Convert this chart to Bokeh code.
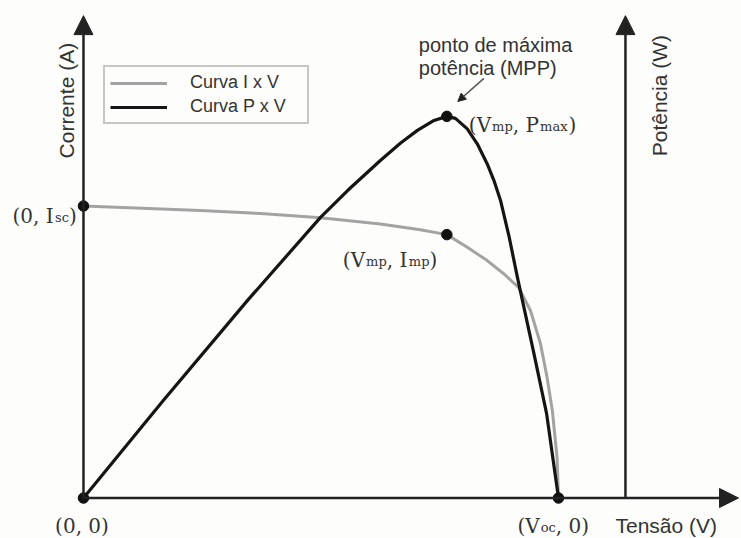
import math

from bokeh.core.properties import value
from bokeh.embed import file_html
from bokeh.models import Arrow, Legend, LegendItem, NormalHead, Range1d
from bokeh.plotting import figure
from bokeh.resources import INLINE

# Characteristic points (normalised units: Isc = 100, Voc = 100)
ISC = 100.0
VOC = 100.0
VMP = 76.5
IMP = 90.2
PMAX = 130.7

# I x V curve
v_iv = [0, 24.6, 37.3, 49.9, 62.5, 70.9, 76.5, 80.8, 85.0, 88.4, 91.6, 94.1, 96.2, 97.6, 98.7, 99.7, 100]
i_iv = [100, 98.5, 97.4, 96.0, 93.8, 91.9, 90.2, 85.9, 81.3, 76.9, 72.1, 64.2, 52.9, 41.3, 30.0, 13.9, 0]

# P x V curve
v_pv = [0, 16.8, 34.5, 49.9, 55.6, 62.5, 66.7, 70.3, 73.8, 76.5, 78.3, 80.8, 82.9, 85.0,
        86.4, 87.8, 89.6, 91.4, 94.7, 97.5, 100]
p_pv = [0, 33.4, 67.6, 96.1, 105.3, 115.6, 121.5, 125.9, 129.3, 130.7, 130.0, 126.4, 121.3, 114.4,
        108.8, 101.9, 89.5, 75.2, 50.5, 28.9, 0]

legend_labels = ["Curva I x V", "Curva P x V"]

# Axis geometry (arrow tips and position of the power axis)
X_TIP = 137.9
Y_TIP = 165.2
P_AXIS_X = 114.1

INK = "#222222"
TEXT = "#333333"
BG = "#fdfdfb"

p = figure(
    width=741, height=538,
    x_range=Range1d(-17.47, 138.53), y_range=Range1d(-13.87, 170.38),
    x_axis_type=None, y_axis_type=None,
    toolbar_location=None, output_backend="svg",
    min_border=0, outline_line_color=None,
    background_fill_color=BG, border_fill_color=BG,
)
p.grid.visible = False

# Axes drawn as arrows
def axis_arrow(x0, y0, x1, y1):
    p.add_layout(Arrow(
        end=NormalHead(size=19, fill_color=INK, line_color=INK, line_width=1),
        x_start=x0, y_start=y0, x_end=x1, y_end=y1,
        line_color=INK, line_width=2.5,
    ))

axis_arrow(0, 0, X_TIP, 0)
axis_arrow(0, 0, 0, Y_TIP)
axis_arrow(P_AXIS_X, 0, P_AXIS_X, Y_TIP)

# Curves
r_iv = p.line(v_iv, i_iv, line_color="#a3a3a3", line_width=3, line_join="round")
r_pv = p.line(v_pv, p_pv, line_color="#151515", line_width=3.2, line_join="round")

# Marked points
p.scatter([0, VMP, VMP, 0, VOC], [ISC, IMP, PMAX, 0, 0],
          size=10.5, fill_color="#111111", line_color="#111111")

# Legend
legend = Legend(
    items=[LegendItem(label=legend_labels[0], renderers=[r_iv]),
           LegendItem(label=legend_labels[1], renderers=[r_pv])],
    location=(103, 414),
    label_text_font="Liberation Sans", label_text_font_size="18px",
    label_text_color=TEXT,
    glyph_width=57, glyph_height=20, label_height=20, label_standoff=23,
    label_width=112, padding=5, spacing=3, margin=0,
    border_line_color="#8f8f8f", border_line_width=2,
    background_fill_color=BG, background_fill_alpha=1.0,
)
p.add_layout(legend)

# Serif labels with subscripts, laid out piece by piece
SERIF_W = {"(": 0.390, ")": 0.390, ",": 0.318, " ": 0.318, "0": 0.636,
           "I": 0.470, "V": 0.770, "P": 0.733, "s": 0.513, "c": 0.560,
           "m": 0.947, "p": 0.640, "a": 0.596, "x": 0.645, "o": 0.602}
MAIN_PX = 20
SUB_PX = 13

def serif_label(x, y, dx, dy, parts):
    off = dx
    for txt, sub in parts:
        size = SUB_PX if sub else MAIN_PX
        p.text(x=[x], y=[y], text=[txt], x_offset=off, y_offset=dy + (1.5 if sub else 0),
               text_font=value("DejaVu Serif"), text_font_size=f"{size}px",
               text_align="left", text_baseline="alphabetic", text_color=TEXT)
        off += sum(SERIF_W.get(c, 0.6) for c in txt) * size

serif_label(0, ISC, -71, 9.5, [("(0, I", False), ("sc", True), (")", False)])
serif_label(VMP, IMP, -104, 25, [("(V", False), ("mp", True), (", I", False), ("mp", True), (")", False)])
serif_label(VMP, PMAX, 22, 9, [("(V", False), ("mp", True), (", P", False), ("max", True), (")", False)])
serif_label(VOC, 0, -41, 28, [("(V", False), ("oc", True), (", 0)", False)])
p.text(x=[0], y=[0], text=["(0, 0)"], x_offset=-1.5, y_offset=28,
       text_font=value("DejaVu Serif"), text_font_size=f"{MAIN_PX}px",
       text_align="center", text_baseline="alphabetic", text_color=TEXT)

# Axis titles
sans = value("Liberation Sans")
p.text(x=[0], y=[Y_TIP], text=["Corrente (A)"], angle=math.pi / 2,
       x_offset=-17, y_offset=85, text_font=sans, text_font_size="21px",
       text_align="center", text_baseline="alphabetic", text_color=TEXT)
p.text(x=[P_AXIS_X], y=[Y_TIP], text=["Potência (W)"], angle=math.pi / 2,
       x_offset=34, y_offset=80, text_font=sans, text_font_size="21px",
       text_align="center", text_baseline="alphabetic", text_color=TEXT)
p.text(x=[P_AXIS_X], y=[0], text=["Tensão (V)"], x_offset=-10, y_offset=27,
       text_font=sans, text_font_size="21px",
       text_align="left", text_baseline="alphabetic", text_color=TEXT)

# MPP callout
p.text(x=[VMP, VMP], y=[PMAX, PMAX], text=["ponto de máxima", "potência (MPP)"],
       x_offset=-28, y_offset=[-71.5, -48.5], text_font=sans, text_font_size="20px",
       text_align="left", text_baseline="alphabetic", text_color=TEXT)
p.add_layout(Arrow(
    end=NormalHead(size=8, fill_color=INK, line_color=INK, line_width=1),
    x_start=VMP + 7.8, y_start=PMAX + 13.0, x_end=VMP + 2.3, y_end=PMAX + 5.1,
    line_color="#555555", line_width=1.5,
))

with open("out.html", "w") as f:
    f.write(file_html(p, INLINE))
